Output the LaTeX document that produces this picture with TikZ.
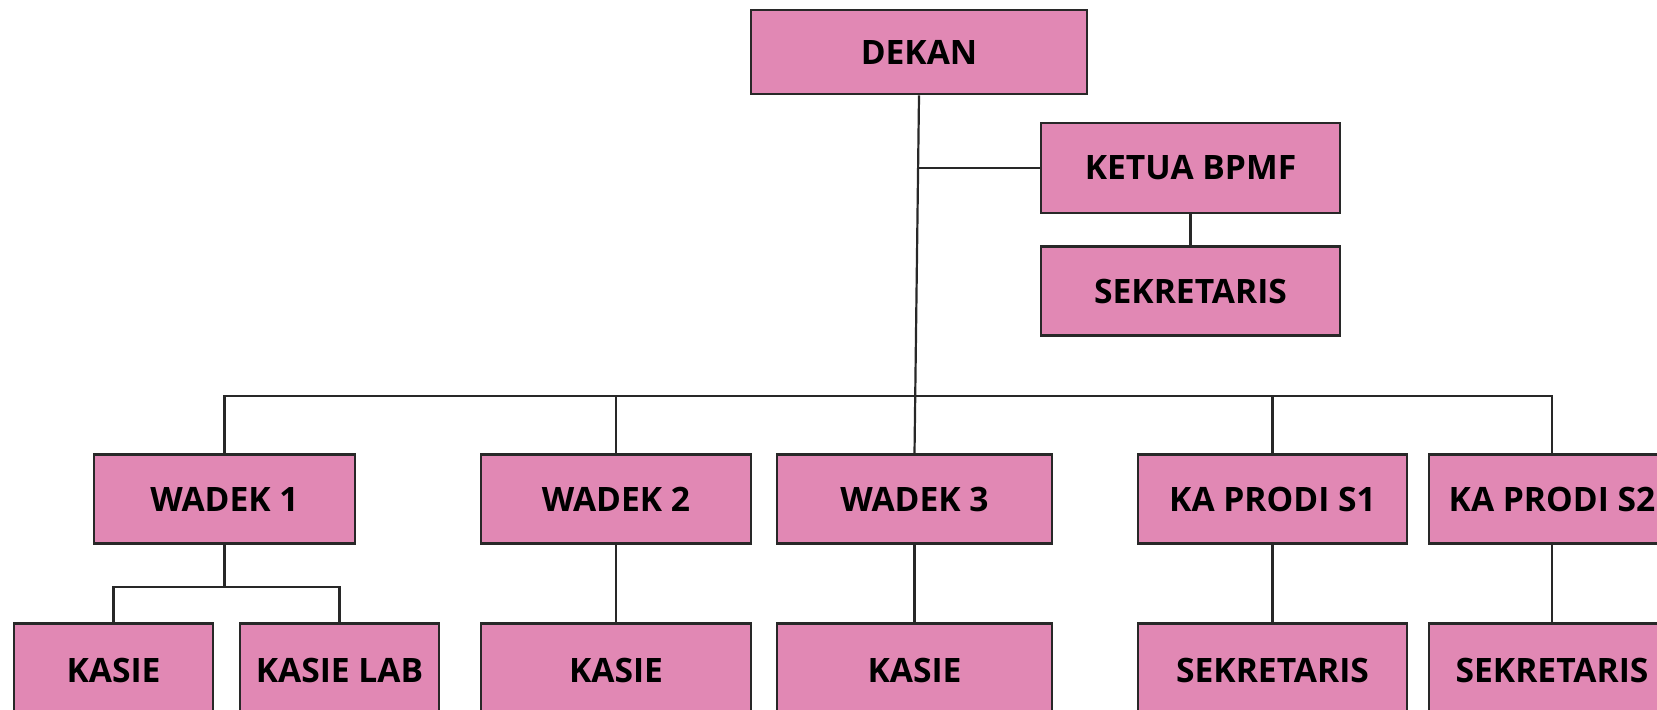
\documentclass[tikz,border=0pt]{standalone}
\usepackage{fontspec}
\setmainfont{Open Sans}
\definecolor{boxpink}{RGB}{225,136,180}
\definecolor{edgegray}{RGB}{40,40,40}
\begin{document}
\begin{tikzpicture}[x=0.5pt,y=-0.5pt,
  orgbox/.style={draw=edgegray, line width=1.3pt, fill=boxpink, inner sep=0pt,
    font=\fontsize{16.8}{19}\selectfont\bfseries, text=black},
  link/.style={draw=edgegray, line width=1.1pt}]
\useasboundingbox (0,0) rectangle (1657,709);
% top
\node[orgbox, minimum width=168pt, minimum height=42pt] (dekan) at (919,52) {DEKAN};
\node[orgbox, minimum width=149.5pt, minimum height=45pt] (ketua) at (1190.5,168) {KETUA BPMF};
\node[orgbox, minimum width=149.5pt, minimum height=44.5pt] (sek0) at (1190.5,291) {SEKRETARIS};
% second row
\node[orgbox, minimum width=130.5pt, minimum height=44.5pt] (wadek1) at (224.5,499) {WADEK 1};
\node[orgbox, minimum width=135pt, minimum height=44.5pt] (wadek2) at (616,499) {WADEK 2};
\node[orgbox, minimum width=137.5pt, minimum height=44.5pt] (wadek3) at (914.5,499) {WADEK 3};
\node[orgbox, minimum width=134.5pt, minimum height=44.5pt] (kp1) at (1272.5,499) {KA PRODI S1};
\node[orgbox, minimum width=123pt, minimum height=44.5pt] (kp2) at (1552,499) {KA PRODI S2};
% bottom row
\node[orgbox, minimum width=99.5pt, minimum height=47pt] (kasie1) at (113.5,670.5) {KASIE};
\node[orgbox, minimum width=99.5pt, minimum height=47pt] (kasielab) at (339.5,670.5) {KASIE LAB};
\node[orgbox, minimum width=135pt, minimum height=47pt] (kasie2) at (616,670.5) {KASIE};
\node[orgbox, minimum width=137.5pt, minimum height=47pt] (kasie3) at (914.5,670.5) {KASIE};
\node[orgbox, minimum width=134.5pt, minimum height=47pt] (sek1) at (1272.5,670.5) {SEKRETARIS};
\node[orgbox, minimum width=123pt, minimum height=47pt] (sek2) at (1552,670.5) {SEKRETARIS};
% helper coordinates
\coordinate (bus) at (0,396);
\coordinate (sub) at (0,587);
% connectors
\draw[link] (dekan.south) -- (wadek3.north);
\draw[link] (dekan.south |- ketua.west) -- (ketua.west);
\draw[link] (ketua.south) -- (sek0.north);
\draw[link] (wadek1.north) -- (wadek1.north |- bus) -- (kp2.north |- bus) -- (kp2.north);
\draw[link] (wadek2.north) -- (wadek2.north |- bus);
\draw[link] (kp1.north) -- (kp1.north |- bus);
\draw[link] (wadek1.south) -- (wadek1.south |- sub);
\draw[link] (kasie1.north) -- (kasie1.north |- sub) -- (kasielab.north |- sub) -- (kasielab.north);
\draw[link] (wadek2.south) -- (kasie2.north);
\draw[link] (wadek3.south) -- (kasie3.north);
\draw[link] (kp1.south) -- (sek1.north);
\draw[link] (kp2.south) -- (sek2.north);
\end{tikzpicture}
\end{document}
